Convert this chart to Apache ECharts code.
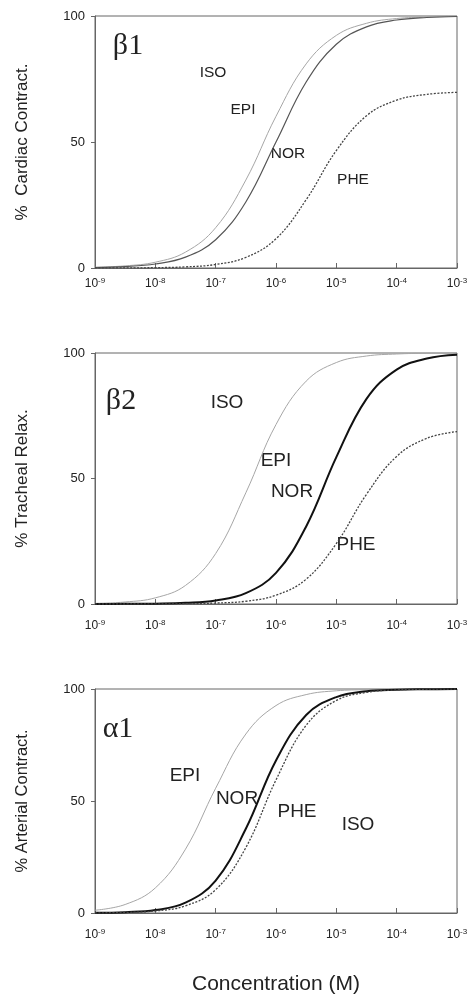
<!DOCTYPE html>
<html>
<head>
<meta charset="utf-8">
<script src="https://cdn.jsdelivr.net/npm/echarts@6/dist/echarts.min.js"></script>
<style>
  html, body { margin: 0; padding: 0; background: #fff; }
  #chart { width: 471px; height: 996px; }
</style>
</head>
<body>
<div id="chart"></div>
<script>
// log10 of concentration (M), read every half decade
var logConc = [-9, -8.5, -8, -7.5, -7, -6.5, -6, -5.5, -5, -4.5, -4, -3.5, -3];

// beta1 - cardiac contraction (%)
var b1IsoEpi = [0.3, 0.85, 2.3, 6.3, 16, 34.9, 60.2, 81, 92.3, 97.1, 99, 99.6, 99.9];
var b1Nor    = [0.2, 0.56, 1.6, 4.3, 11.2, 26.2, 50, 73.8, 88.8, 95.7, 98.4, 99.4, 99.8];
var b1Phe    = [0.01, 0.04, 0.14, 0.44, 1.4, 4.2, 11.6, 27.1, 46.6, 60.4, 66.6, 68.9, 69.7];

// beta2 - tracheal relaxation (%)
var b2IsoEpi = [0.25, 0.8, 2.45, 7.4, 20.1, 44.3, 71.5, 88.8, 96.2, 98.8, 99.6, 99.9, 100];
var b2Nor    = [0.01, 0.05, 0.14, 0.45, 1.4, 4.3, 12.4, 30.9, 58.5, 81.7, 93.4, 97.8, 99.3];
var b2Phe    = [0, 0.01, 0.04, 0.12, 0.37, 1.1, 3.5, 9.9, 24.1, 43.7, 58.8, 66, 68.7];

// alpha1 - arterial contraction (%)
var a1Epi = [1.24, 3.8, 11.2, 28.5, 55.7, 79.9, 92.6, 97.5, 99.2, 99.7, 99.9, 100, 100];
var a1Nor = [0.11, 0.38, 1.3, 4.6, 14.5, 37.6, 68.1, 88.4, 96.4, 99, 99.7, 99.9, 100];
var a1Phe = [0.07, 0.26, 0.9, 3.2, 10.4, 29.2, 59.4, 83.8, 94.9, 98.5, 99.6, 99.9, 100];

var yTitles = ['%  Cardiac Contract.', '% Tracheal Relax.', '% Arterial Contract.'];

var FONT = 'Liberation Sans, Arial, sans-serif';

var grids = [
  {left: 95, top: 16, width: 362, height: 252},
  {left: 95, top: 353, width: 362, height: 251},
  {left: 95, top: 689, width: 362, height: 224}
];

var light = {color: '#a6a6a6', width: 1};
var norThin = {color: '#555', width: 1.2};
var norThick = {color: '#111', width: 2};
var phe = {color: '#444', width: 1.3, type: [2, 1.5]};

function pairs(vals) {
  return logConc.map(function (e, i) { return [e, vals[i]]; });
}
function line(name, vals, gi, style) {
  return {
    name: name, type: 'line', xAxisIndex: gi, yAxisIndex: gi,
    data: pairs(vals), smooth: 0.4, showSymbol: false,
    lineStyle: style, silent: true
  };
}

var labelMargin = [9, 15, 15];
var xAxes = grids.map(function (g, i) {
  return {
    gridIndex: i, type: 'value', min: -9, max: -3, interval: 1,
    axisLine: {lineStyle: {color: '#666'}},
    axisTick: {inside: true, length: 5, lineStyle: {color: '#666'}},
    splitLine: {show: false},
    axisLabel: {
      margin: labelMargin[i],
      formatter: function (v) { return '{b|10}{s|' + v + '}'; },
      rich: {
        b: {fontSize: 12, fontFamily: FONT, color: '#222'},
        s: {fontSize: 8, fontFamily: FONT, color: '#222', verticalAlign: 'top', padding: [0, 0, 6, 0]}
      }
    },
    name: i === 2 ? 'Concentration (M)' : '',
    nameLocation: 'middle', nameGap: 61,
    nameTextStyle: {fontSize: 21, fontFamily: FONT, color: '#222'}
  };
});

var yFont = [17, 17, 16.5];
var yAxes = grids.map(function (g, i) {
  return {
    gridIndex: i, type: 'value', min: 0, max: 100, interval: 50,
    axisLine: {show: true, lineStyle: {color: '#666'}},
    axisTick: {show: true, length: 4, lineStyle: {color: '#666'}},
    splitLine: {show: false},
    axisLabel: {margin: 10, fontSize: 13, fontFamily: FONT, color: '#222'},
    name: yTitles[i], nameLocation: 'middle', nameGap: 64,
    nameTextStyle: {fontSize: yFont[i], fontFamily: FONT, color: '#222'}
  };
});

function txt(s, x, y, size, serif) {
  return {
    type: 'text', x: x, y: y, silent: true,
    style: {
      text: s, fontSize: size, fill: '#222',
      fontFamily: serif ? 'Liberation Serif, DejaVu Serif, serif' : FONT,
      align: 'center', verticalAlign: 'middle'
    }
  };
}

var option = {
  animation: false,
  backgroundColor: '#fff',
  grid: grids.map(function (g) {
    return Object.assign({show: true, borderColor: '#666', borderWidth: 1}, g);
  }),
  xAxis: xAxes,
  yAxis: yAxes,
  series: [
    line('ISO/EPI', b1IsoEpi, 0, light),
    line('NOR', b1Nor, 0, norThin),
    line('PHE', b1Phe, 0, phe),
    line('ISO/EPI', b2IsoEpi, 1, light),
    line('NOR', b2Nor, 1, norThick),
    line('PHE', b2Phe, 1, phe),
    line('EPI', a1Epi, 2, light),
    line('NOR', a1Nor, 2, norThick),
    line('PHE', a1Phe, 2, phe)
  ],
  graphic: [
    txt('\u03b21', 128, 46, 30, true),
    txt('ISO', 213, 73, 15.5),
    txt('EPI', 243, 110, 15.5),
    txt('NOR', 288, 154, 15.5),
    txt('PHE', 353, 180, 15.5),

    txt('\u03b22', 121, 401, 30, true),
    txt('ISO', 227, 403, 19),
    txt('EPI', 276, 461, 19),
    txt('NOR', 292, 492, 19),
    txt('PHE', 356, 545, 19),

    txt('\u03b11', 118, 729, 30, true),
    txt('EPI', 185, 776, 19),
    txt('NOR', 237, 799, 19),
    txt('PHE', 297, 812, 19),
    txt('ISO', 358, 825, 19)
  ]
};

var myChart = echarts.init(document.getElementById('chart'));
myChart.setOption(option);
</script>
</body>
</html>
